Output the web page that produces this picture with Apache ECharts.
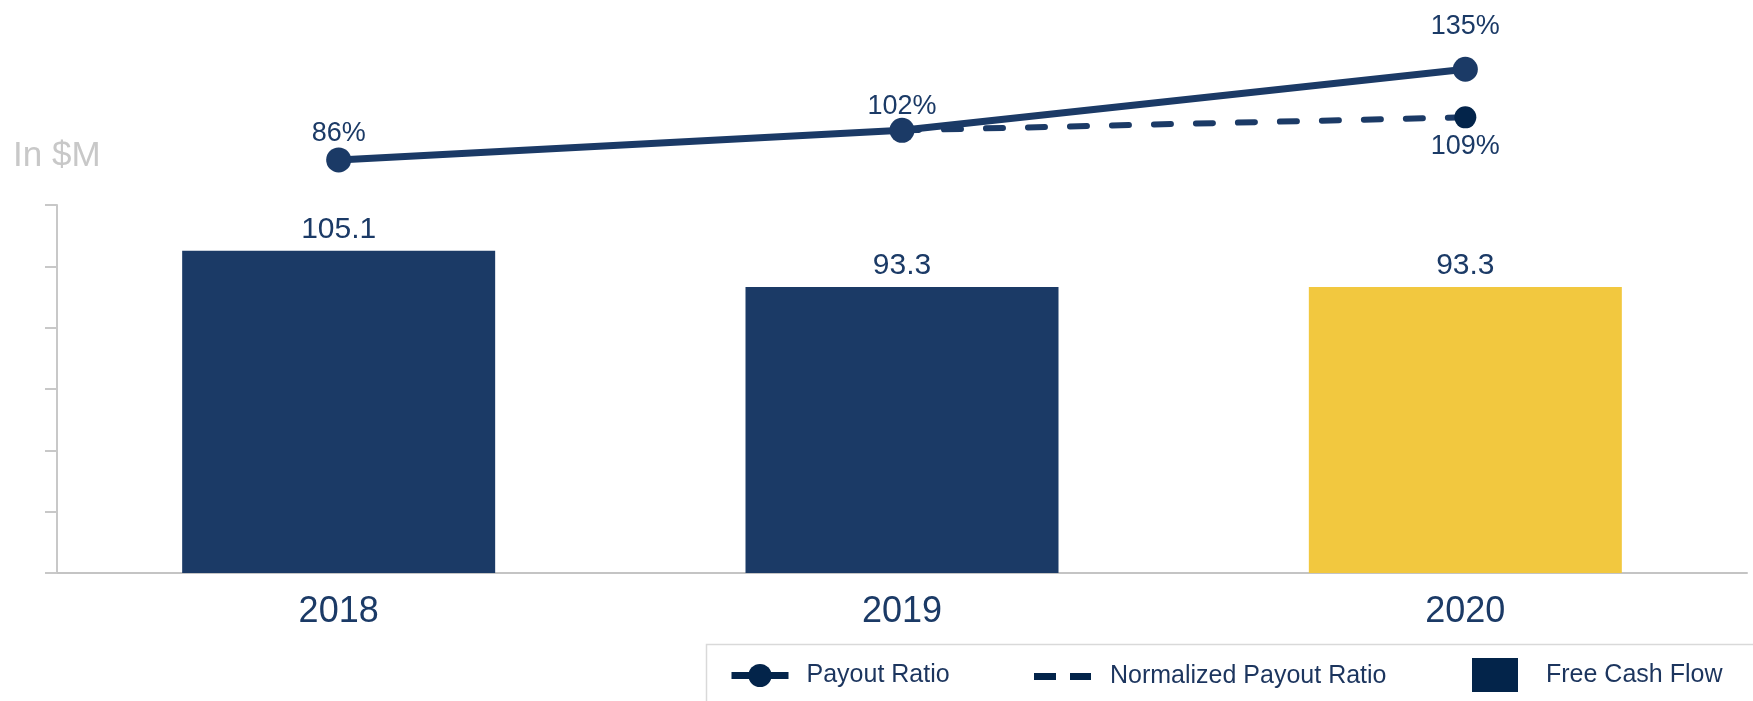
<!DOCTYPE html>
<html>
<head>
<meta charset="utf-8">
<script src="https://cdn.jsdelivr.net/npm/echarts@6/dist/echarts.min.js"></script>
<style>
html,body{margin:0;padding:0;background:#fff;}
#chart{width:1753px;height:701px;}
</style>
</head>
<body>
<div id="chart"></div>
<script>
const categories = ['2018', '2019', '2020'];
const freeCashFlow = [105.1, 93.3, 93.3];
const payoutRatio = [86, 102, 135];
const normalizedPayoutRatio = [null, 102, 109];
const barColors = ['#1b3a66', '#1b3a66', '#f2c83f'];
const unitLabel = 'In $M';

const navy = '#1b3a66';
const dark = '#03244a';
const textNavy = '#1c355e';
const FONT = '"Liberation Sans", Arial, sans-serif';

const payoutLabelDist = [0, -2, 17];

const chart = echarts.init(document.getElementById('chart'));

const option = {
  animation: false,
  textStyle: { fontFamily: FONT },
  title: {
    text: unitLabel,
    left: 8, top: 134,
    textStyle: { fontSize: 35, fontWeight: 'normal', color: '#c8c8c8', fontFamily: FONT }
  },
  grid: [
    { left: 57, right: 6, top: 205, bottom: 128 },
    { left: 57, right: 6, top: 41.5, height: 203.5 }
  ],
  xAxis: [
    {
      type: 'category', data: categories, gridIndex: 0,
      axisLine: { lineStyle: { color: '#c4c4c4', width: 2 } },
      axisTick: { show: false },
      axisLabel: { fontSize: 36, color: navy, margin: 21, fontFamily: FONT }
    },
    { type: 'category', data: categories, gridIndex: 1, show: false }
  ],
  yAxis: [
    {
      type: 'value', gridIndex: 0, min: 0, max: 120, interval: 20,
      axisLine: { show: true, lineStyle: { color: '#c8c8c8', width: 2 } },
      axisTick: { show: true, length: 12, lineStyle: { color: '#c8c8c8', width: 2 } },
      axisLabel: { show: false },
      splitLine: { show: false }
    },
    { type: 'value', gridIndex: 1, min: 40, max: 150, show: false, splitLine: { show: false } }
  ],
  legend: [
    {
      data: ['Payout Ratio'], left: 728, top: 663, padding: 0,
      itemWidth: 57, itemHeight: 29,
      itemStyle: { color: dark },
      lineStyle: { color: dark, width: 7 },
      textStyle: { fontSize: 25, color: textNavy, padding: [0, 0, 0, 13], fontFamily: FONT }
    },
    {
      data: [{ name: 'Normalized Payout Ratio', icon: 'path://M0,0H22V7H0Z M36,0H57V7H36Z' }],
      left: 1034, top: 664, padding: 0,
      itemWidth: 57, itemHeight: 7,
      itemStyle: { color: dark },
      textStyle: { fontSize: 25, color: textNavy, padding: [0, 0, 0, 14], fontFamily: FONT }
    },
    {
      data: [{ name: 'Free Cash Flow', icon: 'rect' }],
      left: 1472, top: 658, padding: 0,
      itemWidth: 46, itemHeight: 34,
      itemStyle: { color: dark },
      textStyle: { fontSize: 25, color: textNavy, padding: [3, 0, 0, 23], fontFamily: FONT }
    }
  ],
  graphic: [
    {
      type: 'rect', left: 704, top: 642, z: -1,
      shape: { x: 0, y: 0, width: 1200, height: 120 },
      style: { fill: 'none', stroke: '#d9d9d9', lineWidth: 1.5 }
    }
  ],
  series: [
    {
      name: 'Free Cash Flow', type: 'bar', xAxisIndex: 0, yAxisIndex: 0,
      barWidth: 313,
      data: freeCashFlow.map((v, i) => ({ value: v, itemStyle: { color: barColors[i] } })),
      label: {
        show: true, position: 'top', distance: 6,
        fontSize: 30, color: navy, fontFamily: FONT,
        formatter: p => p.value.toFixed(1)
      }
    },
    {
      name: 'Normalized Payout Ratio', type: 'line', xAxisIndex: 1, yAxisIndex: 1,
      z: 3, clip: false,
      data: normalizedPayoutRatio.map((v, i) => (i === 1 ? { value: v, symbol: 'none', label: { show: false } } : v)),
      symbol: 'circle', symbolSize: 22,
      itemStyle: { color: dark },
      lineStyle: { color: navy, width: 6, type: [17, 25], cap: 'round' },
      label: {
        show: true, position: 'bottom', distance: 5,
        fontSize: 27, color: navy, fontFamily: FONT, formatter: '{c}%'
      }
    },
    {
      name: 'Payout Ratio', type: 'line', xAxisIndex: 1, yAxisIndex: 1,
      z: 4, clip: false,
      data: payoutRatio.map((v, i) => ({ value: v, label: { distance: payoutLabelDist[i] } })),
      symbol: 'circle', symbolSize: 25,
      itemStyle: { color: navy },
      lineStyle: { color: navy, width: 7 },
      label: {
        show: true, position: 'top',
        fontSize: 27, color: navy, fontFamily: FONT, formatter: '{c}%'
      }
    }
  ]
};

chart.setOption(option);
</script>
</body>
</html>
